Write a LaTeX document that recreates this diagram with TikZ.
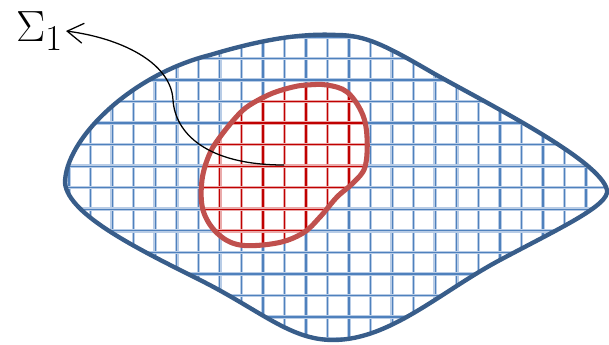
\documentclass[tikz,border=0pt]{standalone}
\usepackage{amsmath}
\usepackage{tikz}
\usetikzlibrary{arrows.meta,positioning,calc}
\definecolor{blobblue}{RGB}{56,93,138}
\definecolor{gridblue}{RGB}{79,129,189}
\definecolor{haloblue}{RGB}{184,204,230}
\definecolor{blobred}{RGB}{192,80,77}
\definecolor{gridred}{RGB}{192,0,0}
\definecolor{halored}{RGB}{234,170,170}

\begin{document}
\begin{tikzpicture}[
      x=0.025cm, y=-0.025cm,
      bluegrid/.style={draw=haloblue, double=gridblue, double distance=0.9pt, line width=0.8pt},
      redgrid/.style={draw=halored, double=gridred, double distance=0.9pt, line width=0.8pt},
      outer/.style={draw=blobblue, line width=3.1pt},
      inner/.style={draw=blobred, line width=3.6pt},
      arrow/.style={-{Straight Barb[length=4mm, width=5mm]}, line width=0.9pt, color=black},
      label/.style={inner sep=1.5pt, font=\Huge, scale=1.25}
    ]
      \useasboundingbox (0,0) rectangle (609,344);
      %% outline paths
      \def\outerpath{(65,183) .. controls (65,140) and (130,75) .. (210,55)
          .. controls (260,40) and (300,33) .. (337,35)
          .. controls (365,35) and (385,45) .. (433,73)
          .. controls (490,105) and (600,160) .. (607,190)
          .. controls (610,205) and (560,228) .. (500,260)
          .. controls (440,292) and (390,340) .. (333,340)
          .. controls (290,340) and (260,310) .. (200,280)
          .. controls (140,250) and (68,215) .. (65,183) -- cycle}
      \def\innerpath{plot[smooth cycle, tension=0.6] coordinates {
          (307,85) (327,85) (347,92) (362,113) (367,137) (365,167) (353,183)
          (337,197) (320,217) (303,233) (277,243) (240,245) (217,233)
          (203,210) (202,180) (210,153) (223,133) (240,113) (253,103)
          (273,93) (293,87)}}
      %% blue mesh
      \begin{scope}
        \clip \outerpath;
        \foreach \i in {0,...,28}
          \draw[bluegrid] ({4.44+21.54*\i},0) -- ({4.44+21.54*\i},344);
        \foreach \j in {0,...,15}
          \draw[bluegrid] (0,{15.38+21.54*\j}) -- (609,{15.38+21.54*\j});
      \end{scope}
      %% red mesh
      \begin{scope}
        \clip \innerpath;
        \fill[white] (150,60) rectangle (400,260);
        \foreach \i in {8,...,18}
          \draw[redgrid] ({4.44+21.54*\i},60) -- ({4.44+21.54*\i},260);
        \foreach \j in {2,...,11}
          \draw[redgrid] (150,{15.38+21.54*\j}) -- (400,{15.38+21.54*\j});
      \end{scope}
      \draw[outer, line join=round] \outerpath;
      \draw[inner] \innerpath;
      %% label and pointer
      \node[label, anchor=east] (sig) at (66,31) {$\Sigma_1$};
      \coordinate (core) at (284,165);
      \draw[arrow] (core) .. controls (205,165) and (175,132) .. (173,100)
          .. controls (171,62) and (120,38) .. (sig.east);
    \end{tikzpicture}
\end{document}
